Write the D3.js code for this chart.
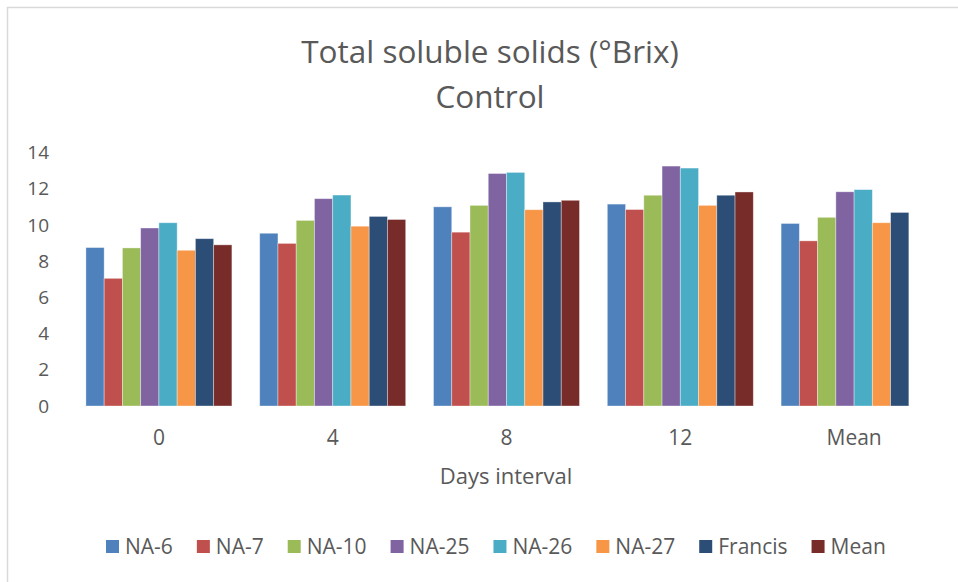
<!DOCTYPE html>
<html>
<head>
<meta charset="utf-8">
<script src="https://cdn.jsdelivr.net/npm/d3@7"></script>
<style>
  body { margin: 0; background: #fff; }
  svg { display: block; }
  text { font-family: "Open Sans", Lato, sans-serif; fill: #595959; }
</style>
</head>
<body>
<svg id="chart" width="958" height="582"></svg>
<script>
// data
var categories = ["0", "4", "8", "12", "Mean"];
var seriesNames = ["NA-6", "NA-7", "NA-10", "NA-25", "NA-26", "NA-27", "Francis", "Mean"];
var seriesColors = ["#4F81BD", "#C0504D", "#9BBB59", "#8064A2", "#4BACC6", "#F79646", "#2C4D75", "#772C2A"];
// one array per series, values for 0, 4, 8, 12, Mean
var na6     = [8.75, 9.54, 11.0, 11.15, 10.08];
var na7     = [7.05, 8.98, 9.6, 10.85, 9.12];
var na10    = [8.73, 10.25, 11.08, 11.64, 10.42];
var na25    = [9.83, 11.45, 12.84, 13.25, 11.83];
var na26    = [10.12, 11.65, 12.9, 13.14, 11.95];
var na27    = [8.6, 9.93, 10.84, 11.08, 10.12];
var francis = [9.24, 10.47, 11.27, 11.64, 10.69];
var mean    = [8.9, 10.3, 11.36, 11.82, null];
var yTicks = [0, 2, 4, 6, 8, 10, 12, 14];

var allSeries = [na6, na7, na10, na25, na26, na27, francis, mean];

var svg = d3.select("#chart");

// outer chart border (only top/left visible in the reference)
svg.append("rect")
    .attr("x", 7.5).attr("y", 7.5)
    .attr("width", 1000).attr("height", 700)
    .attr("fill", "none")
    .attr("stroke", "#d9d9d9")
    .attr("stroke-width", 1.5);

// title
svg.append("text")
    .attr("x", 490).attr("y", 63)
    .attr("text-anchor", "middle")
    .style("font-size", "31.5px")
    .text("Total soluble solids (°Brix)");
svg.append("text")
    .attr("x", 490).attr("y", 108)
    .attr("text-anchor", "middle")
    .style("font-size", "31.5px")
    .text("Control");

// scales
var x0 = d3.scaleBand()
    .domain(categories)
    .range([72, 941])
    .paddingInner(0.16)
    .paddingOuter(0.08);

var x1 = d3.scaleBand()
    .domain(seriesNames)
    .range([0, x0.bandwidth()]);

var y = d3.scaleLinear()
    .domain([0, 14])
    .range([406, 152.5]);

// y axis (labels only)
var yAxis = d3.axisLeft(y).tickValues(yTicks).tickSize(0).tickPadding(0);
var yg = svg.append("g")
    .attr("transform", "translate(49,0)")
    .call(yAxis);
yg.select(".domain").remove();
yg.selectAll("text")
    .style("font-size", "19px")
    .style("font-family", "'Open Sans', Lato, sans-serif")
    .attr("fill", "#595959");

// bars
var groups = svg.append("g").selectAll("g")
    .data(categories)
    .enter()
    .append("g")
    .attr("transform", function(d) { return "translate(" + x0(d) + ",0)"; });

groups.selectAll("rect")
    .data(function(d, i) {
        return seriesNames.map(function(s, j) {
            return { key: s, color: seriesColors[j], value: allSeries[j][i] };
        }).filter(function(v) { return v.value != null; });
    })
    .enter()
    .append("rect")
    .attr("x", function(d) { return x1(d.key); })
    .attr("y", function(d) { return y(d.value); })
    .attr("width", x1.bandwidth())
    .attr("height", function(d) { return y(0) - y(d.value); })
    .attr("fill", function(d) { return d.color; })
    .attr("stroke", "#ffffff")
    .attr("stroke-opacity", 0.45)
    .attr("stroke-width", 0.8);

// x axis (labels only)
var xAxis = d3.axisBottom(x0).tickSize(0).tickPadding(0);
var xg = svg.append("g")
    .attr("transform", "translate(0,445)")
    .call(xAxis);
xg.select(".domain").remove();
xg.selectAll("text")
    .attr("dy", null)
    .style("font-size", "21px")
    .style("font-family", "'Open Sans', Lato, sans-serif")
    .attr("fill", "#595959");

// axis title
svg.append("text")
    .attr("x", 506).attr("y", 484)
    .attr("text-anchor", "middle")
    .style("font-size", "22px")
    .text("Days interval");

// legend
var legend = svg.append("g").attr("transform", "translate(0,554)");
var lx = 106;
seriesNames.forEach(function(name, i) {
    var item = legend.append("g").attr("transform", "translate(" + lx + ",0)");
    item.append("rect")
        .attr("x", 0).attr("y", -14)
        .attr("width", 13).attr("height", 13)
        .attr("fill", seriesColors[i]);
    var t = item.append("text")
        .attr("x", 19).attr("y", 0)
        .style("font-size", "21px")
        .text(name);
    lx += 19 + t.node().getComputedTextLength() + 24;
});
</script>
</body>
</html>
